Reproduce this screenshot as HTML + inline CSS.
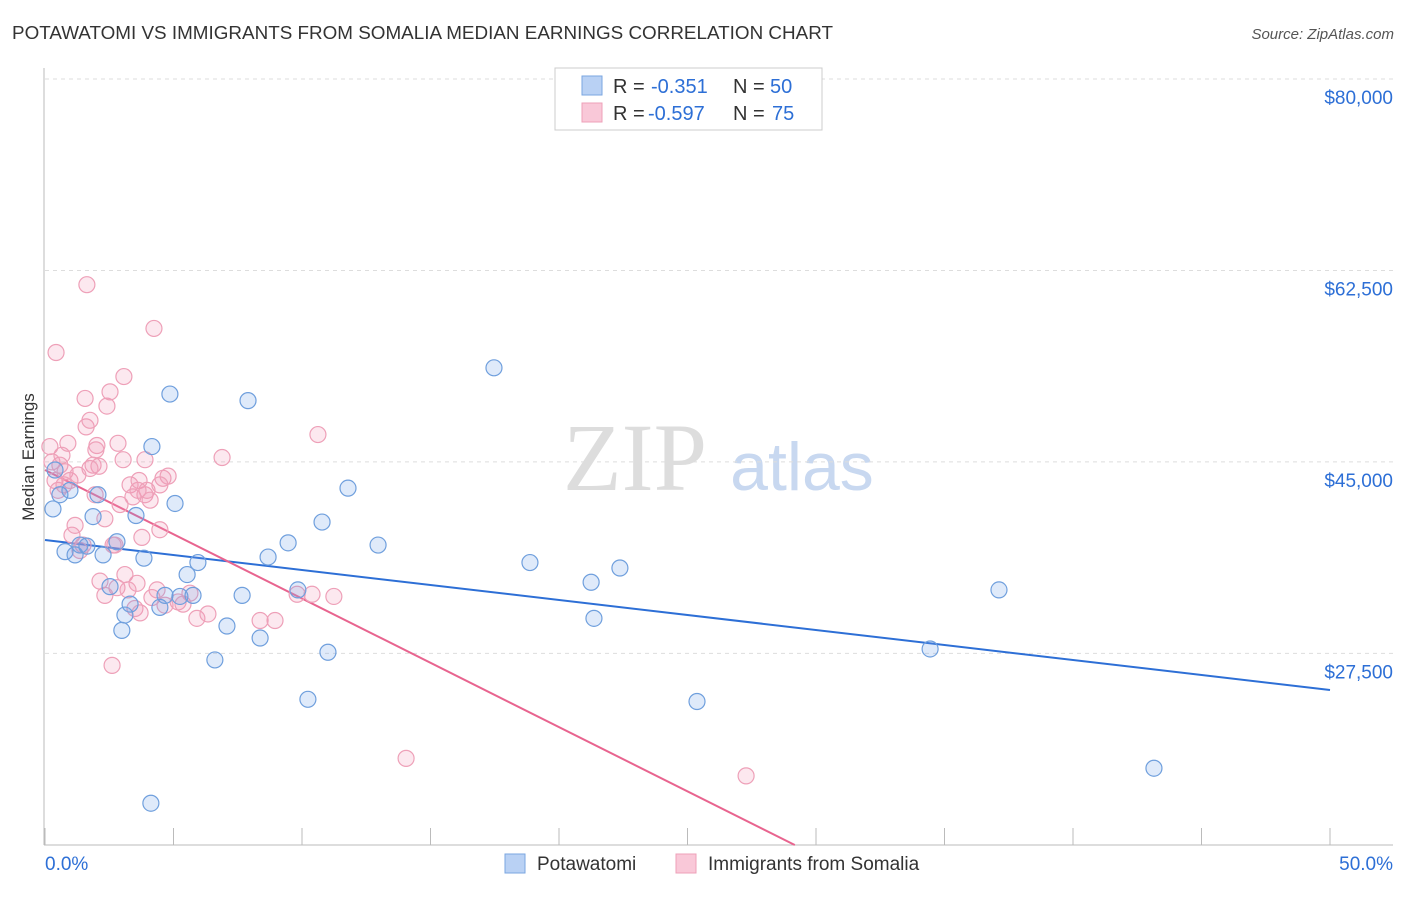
<!DOCTYPE html>
<html><head><meta charset="utf-8"><style>
body{margin:0;background:#fff;font-family:"Liberation Sans",sans-serif;}
svg text{font-family:"Liberation Sans",sans-serif;}
</style></head><body>
<svg id="chart" width="1406" height="892">
<text x="12" y="39" font-size="18" fill="#333" textLength="821" lengthAdjust="spacingAndGlyphs">POTAWATOMI VS IMMIGRANTS FROM SOMALIA MEDIAN EARNINGS CORRELATION CHART</text>
<text x="1394" y="39" font-size="15" fill="#555" font-style="italic" text-anchor="end">Source: ZipAtlas.com</text>
<text x="34" y="457" font-size="17" fill="#333" text-anchor="middle" transform="rotate(-90 34 457)">Median Earnings</text>
<g>
<text x="635" y="490" font-size="96" fill="#ddd" font-family="Liberation Serif" text-anchor="middle" style="font-family:'Liberation Serif',serif">ZIP</text>
<text x="802" y="490" font-size="68" fill="#c8d8f0" text-anchor="middle">atlas</text>
</g>
<g id="grid"></g><g id="axes"></g><g id="trend"></g><g id="pts"></g>
<g>
<rect x="555" y="68" width="267" height="62" fill="#fff" stroke="#ccc"/>
<rect x="582" y="76" width="20" height="19" fill="#b9d1f4" stroke="#7aa6e0"/>
<rect x="582" y="103" width="20" height="19" fill="#f9c8d8" stroke="#eea0b8"/>
<text x="613" y="93" font-size="20" fill="#333">R =</text>
<text x="651" y="93" font-size="20" fill="#2d6fd6">-0.351</text>
<text x="733" y="93" font-size="20" fill="#333">N =</text>
<text x="770" y="93" font-size="20" fill="#2d6fd6">50</text>
<text x="613" y="120" font-size="20" fill="#333">R =</text>
<text x="648" y="120" font-size="20" fill="#2d6fd6">-0.597</text>
<text x="733" y="120" font-size="20" fill="#333">N =</text>
<text x="772" y="120" font-size="20" fill="#2d6fd6">75</text>
</g>
<g>
<rect x="505" y="854" width="20" height="19" fill="#b9d1f4" stroke="#7aa6e0"/>
<text x="537" y="870" font-size="19" fill="#333">Potawatomi</text>
<rect x="676" y="854" width="20" height="19" fill="#f9c8d8" stroke="#eea0b8"/>
<text x="708" y="870" font-size="19" fill="#333">Immigrants from Somalia</text>
</g>
</svg>
<script>
const yTicks=[80000,62500,45000,27500];
const yTickLabels=["$80,000","$62,500","$45,000","$27,500"];
const xTickLabels=["0.0%","50.0%"];
const blueX=[0.39,0.31,0.58,0.78,0.97,1.17,1.36,1.63,1.87,2.06,2.26,2.53,2.80,2.99,3.11,3.31,3.54,3.85,4.16,4.47,4.67,4.86,5.06,5.25,5.53,5.76,5.95,6.61,7.08,7.67,7.90,8.37,8.68,9.46,9.84,10.23,10.78,11.01,11.79,12.96,17.47,18.87,21.25,21.36,22.37,25.37,34.44,37.12,43.15,4.12];
const blueY=[44.26,40.7,42.0,36.8,42.4,36.5,37.4,37.3,40.0,42.0,36.5,33.6,37.7,29.6,31.0,32.0,40.1,36.2,46.4,31.7,32.8,51.2,41.2,32.7,34.7,32.8,35.8,26.9,30.0,32.8,50.6,28.9,36.3,37.6,33.3,23.3,39.5,27.6,42.6,37.4,53.6,35.8,34.0,30.7,35.3,23.1,27.9,33.3,17.0,13.8];
const pinkX=[0.19,0.27,0.39,0.43,0.58,0.66,0.78,0.89,0.97,1.05,1.17,1.28,1.36,1.48,1.56,1.60,1.63,1.75,1.87,1.95,2.02,2.10,2.14,2.33,2.41,2.53,2.61,2.72,2.80,2.84,2.92,3.04,3.07,3.11,3.31,3.42,3.50,3.58,3.66,3.70,3.77,3.89,3.97,4.09,4.16,4.24,4.36,4.47,4.59,4.67,4.79,5.18,5.37,5.64,5.91,6.34,6.89,8.37,8.95,9.81,10.39,10.62,11.24,14.05,27.28,0.51,0.74,1.75,1.98,3.23,2.33,3.89,4.47,2.65,3.62];
const pinkY=[46.4,45.0,43.3,55.0,44.7,45.6,44.1,46.7,43.3,38.3,39.2,43.8,36.9,37.4,50.8,48.2,61.2,48.8,44.7,42.0,46.5,44.6,34.1,39.8,50.1,51.4,26.4,37.4,33.5,46.7,41.1,45.2,52.8,34.7,42.9,41.8,31.6,33.9,43.3,31.2,38.1,42.0,42.4,41.5,32.6,57.2,33.3,38.8,43.5,31.9,43.7,32.2,32.0,33.0,30.7,31.1,45.4,30.5,30.5,32.9,32.9,47.5,32.7,17.9,16.3,42.4,42.9,44.4,46.1,33.3,32.8,45.2,42.9,37.4,42.4];
const blueTrend=[37.86,24.15]; // values at 0% and 50%
const pinkTrend=[44.26,-1.175]; // intercept, slope per %
const NS="http://www.w3.org/2000/svg";
const X0=45,X1=1330,Y80=79,PXK=10.94;
const sx=p=>X0+(p/50)*(X1-X0);
const sy=k=>Y80+(80-k)*PXK;
function mk(t,a,p){const e=document.createElementNS(NS,t);for(const k in a)e.setAttribute(k,a[k]);p.appendChild(e);return e;}
const grid=document.getElementById('grid'),axes=document.getElementById('axes'),trend=document.getElementById('trend'),pts=document.getElementById('pts');
yTicks.forEach((v,i)=>{const y=sy(v/1000);
const l=mk('line',{x1:45,x2:1393,y1:y,y2:y,stroke:'#ddd','stroke-dasharray':'4,4'},grid);


const t=mk('text',{x:1393,y:y+25,'font-size':19,fill:'#2d6fd6','text-anchor':'end'},axes);t.textContent=yTickLabels[i];

});
const ax=mk('line',{x1:44,x2:44,y1:68,y2:845,stroke:'#bbb'},axes);


const bx=mk('line',{x1:44,x2:1393,y1:845,y2:845,stroke:'#bbb'},axes);


for(let i=0;i<=10;i++){const x=sx(i*5);const t=mk('line',{x1:x,x2:x,y1:828,y2:845,stroke:'#bbb'},axes);

}
[[0,'start'],[50,'end']].forEach((d,i)=>{const t=mk('text',{x:i?1393:45,y:870,'font-size':19,fill:'#2d6fd6','text-anchor':d[1]},axes);t.textContent=xTickLabels[i];

});
function dots(xs,ys,fill,stroke,name){xs.forEach((x,i)=>{const c=mk('circle',{cx:sx(x),cy:sy(ys[i]),r:8,fill:fill,stroke:stroke,'stroke-width':1.2},pts);

});}
dots(pinkX,pinkY,'rgba(243,150,180,0.22)','#eea0b8','somalia-point');
dots(blueX,blueY,'rgba(110,160,230,0.22)','#6f9fdd','potawatomi-point');
const bl=mk('line',{x1:sx(0),y1:sy(blueTrend[0]),x2:sx(50),y2:sy(blueTrend[1]),stroke:'#2d6fd6','stroke-width':2},trend);


const xEnd=(9.98-pinkTrend[0])/pinkTrend[1];
const pl=mk('line',{x1:sx(0),y1:sy(pinkTrend[0]),x2:sx(xEnd),y2:sy(pinkTrend[0]+pinkTrend[1]*xEnd),stroke:'#e8648f','stroke-width':2},trend);


</script>
</body></html>
